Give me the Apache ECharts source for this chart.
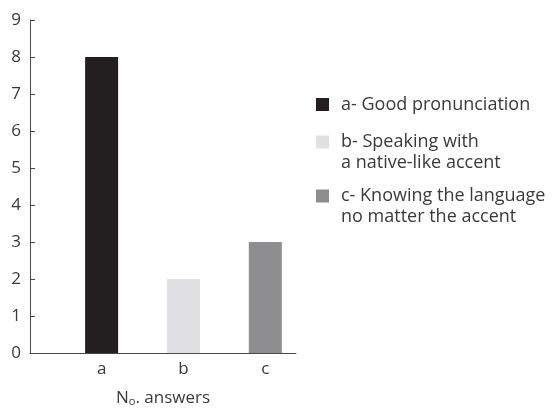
<!DOCTYPE html>
<html>
<head>
<meta charset="utf-8">
<script src="https://cdn.jsdelivr.net/npm/echarts@6/dist/echarts.min.js"></script>
<style>html,body{margin:0;padding:0;background:#fff}#c{width:555px;height:412px}</style>
</head>
<body>
<div id="c"></div>
<script>
// Category slots along the x axis (labels a, b, c sit in their slots)
var categories = ['', '', '', 'a', '', '', '', 'b', '', '', '', 'c', ''];
var seriesNames = ['a- Good pronunciation', 'b- Speaking with\na native-like accent', 'c- Knowing the language\nno matter the accent'];
var seriesCats = ['a', 'b', 'c'];
var seriesValues = [8, 2, 3];
var yTicks = [0, 1, 2, 3, 4, 5, 6, 7, 8, 9];
var colors = ['#231f20', '#e1e1e3', '#8e8e91'];
var legendTops = [94, 110.5, 164.5];

var FONT = 'Open Sans';
var series = seriesNames.map(function (n, i) {
  return {
    name: n,
    type: 'bar',
    stack: 'all',
    barWidth: 33,
    itemStyle: { color: colors[i] },
    data: categories.map(function (c) { return c === seriesCats[i] ? seriesValues[i] : '-'; })
  };
});
var legends = seriesNames.map(function (n, i) {
  return {
    orient: 'vertical',
    left: 316,
    top: legendTops[i],
    padding: 0,
    icon: 'rect',
    itemWidth: 13,
    itemHeight: 13,
    selectedMode: false,
    data: [n],
    formatter: function (name) {
      return name.indexOf('\n') >= 0 ? ' \n' + name : name;
    },
    textStyle: {
      fontFamily: FONT, fontSize: 18, color: '#3a3a3a', lineHeight: 21,
      padding: [0, 0, 0, 7]
    }
  };
});
var chart = echarts.init(document.getElementById('c'));
chart.setOption({
  animation: false,
  legend: legends,
  grid: { left: 30, right: 259, top: 20, bottom: 58 },
  xAxis: {
    type: 'category',
    data: categories,
    axisLine: { lineStyle: { color: '#4a4a4a', width: 1 } },
    axisTick: { show: false },
    axisLabel: { interval: 0, fontFamily: FONT, fontSize: 17, color: '#3a3a3a', margin: 8 },
    name: 'N{s|o}. answers',
    nameLocation: 'middle',
    nameGap: 36,
    nameTextStyle: {
      fontFamily: FONT, fontSize: 17, color: '#3a3a3a',
      rich: { s: { fontFamily: FONT, fontSize: 11, color: '#3a3a3a', verticalAlign: 'bottom', padding: [7, 0, 0, 0] } }
    }
  },
  yAxis: {
    type: 'value',
    min: yTicks[0],
    max: yTicks[yTicks.length - 1],
    interval: 1,
    splitLine: { show: false },
    axisLine: { show: true, lineStyle: { color: '#4a4a4a', width: 1 } },
    axisTick: { show: true, inside: true, length: 5, lineStyle: { color: '#4a4a4a' } },
    axisLabel: { fontFamily: FONT, fontSize: 17, color: '#3a3a3a', margin: 9 }
  },
  series: series
});
</script>
</body>
</html>
